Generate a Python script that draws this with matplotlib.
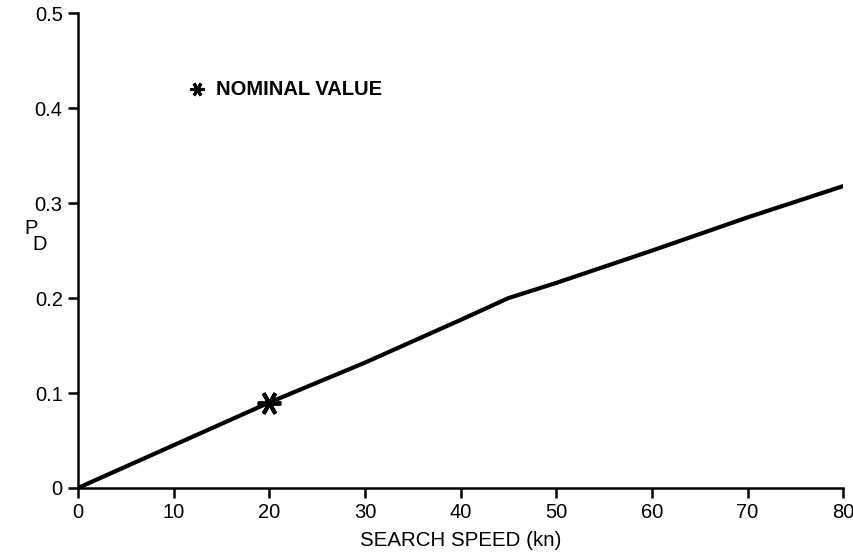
import numpy as np
import matplotlib.pyplot as plt

plt.rcParams['font.family'] = ['Liberation Sans', 'DejaVu Sans']

# --- data ---
speed = [0, 10, 20, 30, 40, 45, 50, 60, 70, 80]
pd_vals = [0, 0.045, 0.09, 0.132, 0.177, 0.2, 0.216, 0.25, 0.285, 0.318]
nominal_speed = 20
nominal_pd = 0.09
xticks = [0, 10, 20, 30, 40, 50, 60, 70, 80]
yticks = [0, 0.1, 0.2, 0.3, 0.4, 0.5]
ytick_labels = ['0', '0.1', '0.2', '0.3', '0.4', '0.5']

fig = plt.figure(figsize=(8.54, 5.57), dpi=100)
ax = fig.add_axes([0.0913, 0.124, 0.896, 0.852])

ax.plot(speed, pd_vals, color='black', lw=3.0, solid_capstyle='round')
ax.plot(nominal_speed, nominal_pd, marker=(6, 2, 90), color='black',
        markersize=17, markeredgewidth=2.8, linestyle='none')

# key
ax.plot(12.4, 0.42, marker=(6, 2, 90), color='black', markersize=10,
        markeredgewidth=2.2, linestyle='none')
ax.text(14.4, 0.42, 'NOMINAL VALUE', fontsize=14.5, fontweight='bold',
        va='center', ha='left')

ax.set_xlim(0, 80)
ax.set_ylim(0, 0.5)
ax.set_xticks(xticks)
ax.set_yticks(yticks)
ax.set_yticklabels(ytick_labels)
for side in ['top', 'right']:
    ax.spines[side].set_visible(False)
for side in ['left', 'bottom']:
    ax.spines[side].set_linewidth(1.8)
ax.tick_params(direction='out', length=7, width=1.8, labelsize=14.5, pad=4)

ax.set_xlabel('SEARCH SPEED (kn)', fontsize=14.8, labelpad=6)
fig.text(0.029, 0.590, 'P', fontsize=14.5, ha='left', va='center')
fig.text(0.038, 0.561, 'D', fontsize=14.5, ha='left', va='center')

fig.savefig('out.png', dpi=100)
